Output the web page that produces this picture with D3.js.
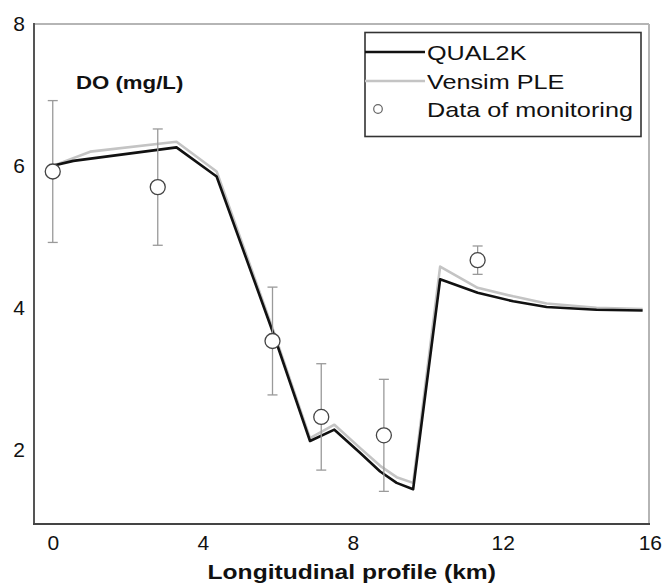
<!DOCTYPE html>
<html>
<head>
<meta charset="utf-8">
<script src="https://cdn.jsdelivr.net/npm/d3@7"></script>
<style>
  html, body { margin: 0; padding: 0; background: #fff; }
  svg text { font-family: "Liberation Sans", Arial, sans-serif; fill: #111; }
</style>
</head>
<body>
<svg id="chart" width="663" height="584"></svg>
<script>
// ---- data ----
const qualX   = [0, 0.55, 3.3, 4.37, 5.88, 6.86, 7.51, 8.2, 8.73, 9.17, 9.61, 10.33, 11.33, 12.28, 13.17, 14.5, 15.73];
const qualY   = [6.0, 6.07, 6.26, 5.85, 3.64, 2.12, 2.28, 1.95, 1.69, 1.53, 1.44, 4.40, 4.21, 4.09, 4.01, 3.97, 3.96];
const vensimX = [0, 1.0, 3.3, 4.37, 5.88, 6.86, 7.51, 8.2, 8.73, 9.17, 9.61, 10.33, 11.33, 12.28, 13.17, 14.5, 15.73];
const vensimY = [6.0, 6.2, 6.34, 5.92, 3.68, 2.16, 2.35, 2.02, 1.77, 1.61, 1.53, 4.58, 4.28, 4.16, 4.06, 4.0, 3.98];
const monX    = [0, 2.8, 5.86, 7.16, 8.83, 11.33];
const monY    = [5.92, 5.70, 3.53, 2.46, 2.20, 4.67];
const monErr  = [1.0, 0.82, 0.76, 0.75, 0.79, 0.2];
const xTicks  = [0, 4, 8, 12, 16];
const yTicks  = [2, 4, 6, 8];
const seriesNames = ["QUAL2K", "Vensim PLE", "Data of monitoring"];
const yLabel = "DO (mg/L)";
const xLabel = "Longitudinal profile (km)";

// ---- layout ----
const W = 663;
const svg = d3.select("#chart");
const x = d3.scaleLinear().domain([-0.5, 15.9]).range([34, 649]);
const y = d3.scaleLinear().domain([0.95, 8]).range([524, 24]);
function stretch(sel, k) {
  sel.each(function () {
    const len = this.getComputedTextLength();
    d3.select(this).attr("textLength", len * k).attr("lengthAdjust", "spacingAndGlyphs");
  });
}

const x0 = x.range()[0], x1 = x.range()[1], yTop = y.range()[1], yBot = y.range()[0];

// frame: top/right light, left/bottom dark
svg.append("line").attr("x1", x0).attr("x2", x1).attr("y1", yTop).attr("y2", yTop)
  .attr("stroke", "#b5b5b5").attr("stroke-width", 2);
svg.append("line").attr("x1", x1).attr("x2", x1).attr("y1", yTop).attr("y2", yBot)
  .attr("stroke", "#b5b5b5").attr("stroke-width", 2);
svg.append("line").attr("x1", x0).attr("x2", x0).attr("y1", yTop - 1).attr("y2", yBot + 1)
  .attr("stroke", "#555").attr("stroke-width", 2);
svg.append("line").attr("x1", x0 - 1).attr("x2", x1 + 1).attr("y1", yBot).attr("y2", yBot)
  .attr("stroke", "#444").attr("stroke-width", 2);

// axes (labels only)
const yAxis = svg.append("g").attr("transform", `translate(${x0},0)`)
  .call(d3.axisLeft(y).tickValues(yTicks).tickSize(0).tickPadding(9).tickFormat(d3.format("d")));
yAxis.select(".domain").remove();
yAxis.selectAll("text").attr("font-size", 21).style("font-family", "Liberation Sans, Arial, sans-serif").attr("fill", "#111");

const xAxis = svg.append("g").attr("transform", `translate(0,${yBot})`)
  .call(d3.axisBottom(x).tickValues(xTicks).tickSize(0).tickPadding(11).tickFormat(d3.format("d")));
xAxis.select(".domain").remove();
xAxis.selectAll("text").attr("font-size", 21).style("font-family", "Liberation Sans, Arial, sans-serif").attr("fill", "#111");
// keep the last label inside the window
xAxis.selectAll(".tick").filter(d => d === xTicks[xTicks.length - 1]).select("text")
  .attr("text-anchor", "end").attr("x", (W - 1.5) - x(xTicks[xTicks.length - 1]));

svg.append("text").attr("x", (x(0) + x(16)) / 2 - 1).attr("y", 579)
  .attr("text-anchor", "middle").attr("font-size", 20.5).attr("font-weight", "bold")
  .text(xLabel).call(stretch, 1.2);

svg.append("text").attr("x", 76).attr("y", 89)
  .attr("font-size", 18.5).attr("font-weight", "bold")
  .text(yLabel).call(stretch, 1.2);

// lines
const lineGen = d3.line().x(d => x(d[0])).y(d => y(d[1]));
svg.append("path").datum(vensimX.map((v, i) => [v, vensimY[i]]))
  .attr("d", lineGen).attr("fill", "none").attr("stroke", "#c4c4c4").attr("stroke-width", 2.6)
  .attr("stroke-linejoin", "round");
svg.append("path").datum(qualX.map((v, i) => [v, qualY[i]]))
  .attr("d", lineGen).attr("fill", "none").attr("stroke", "#111").attr("stroke-width", 2.6)
  .attr("stroke-linejoin", "round");

// error bars + circles
const mon = monX.map((v, i) => ({ x: v, y: monY[i], e: monErr[i] }));
const eb = svg.append("g").attr("stroke", "#9a9a9a").attr("stroke-width", 1.3);
mon.forEach(d => {
  eb.append("line").attr("x1", x(d.x)).attr("x2", x(d.x)).attr("y1", y(d.y + d.e)).attr("y2", y(d.y - d.e));
  eb.append("line").attr("x1", x(d.x) - 5).attr("x2", x(d.x) + 5).attr("y1", y(d.y + d.e)).attr("y2", y(d.y + d.e));
  eb.append("line").attr("x1", x(d.x) - 5).attr("x2", x(d.x) + 5).attr("y1", y(d.y - d.e)).attr("y2", y(d.y - d.e));
});
svg.append("g").selectAll("circle").data(mon).join("circle")
  .attr("cx", d => x(d.x)).attr("cy", d => y(d.y)).attr("r", 7.5)
  .attr("fill", "#fff").attr("stroke", "#444").attr("stroke-width", 1.3);

// legend
const lg = svg.append("g");
lg.append("rect").attr("x", 365).attr("y", 32.5).attr("width", 276).attr("height", 104)
  .attr("fill", "#fff").attr("stroke", "#333").attr("stroke-width", 1.6);
const rowsY = [52, 81, 109];
lg.append("line").attr("x1", 365).attr("x2", 425).attr("y1", rowsY[0]).attr("y2", rowsY[0])
  .attr("stroke", "#111").attr("stroke-width", 2.6);
lg.append("line").attr("x1", 365).attr("x2", 425).attr("y1", rowsY[1]).attr("y2", rowsY[1])
  .attr("stroke", "#c4c4c4").attr("stroke-width", 2.6);
lg.append("circle").attr("cx", 378).attr("cy", rowsY[2]).attr("r", 4.3)
  .attr("fill", "#fff").attr("stroke", "#666").attr("stroke-width", 1.2);
seriesNames.forEach((s, i) => {
  lg.append("text").attr("x", 427).attr("y", rowsY[i]).attr("dy", "0.36em")
    .attr("font-size", 21).text(s).call(stretch, 1.2);
});
</script>
</body>
</html>
